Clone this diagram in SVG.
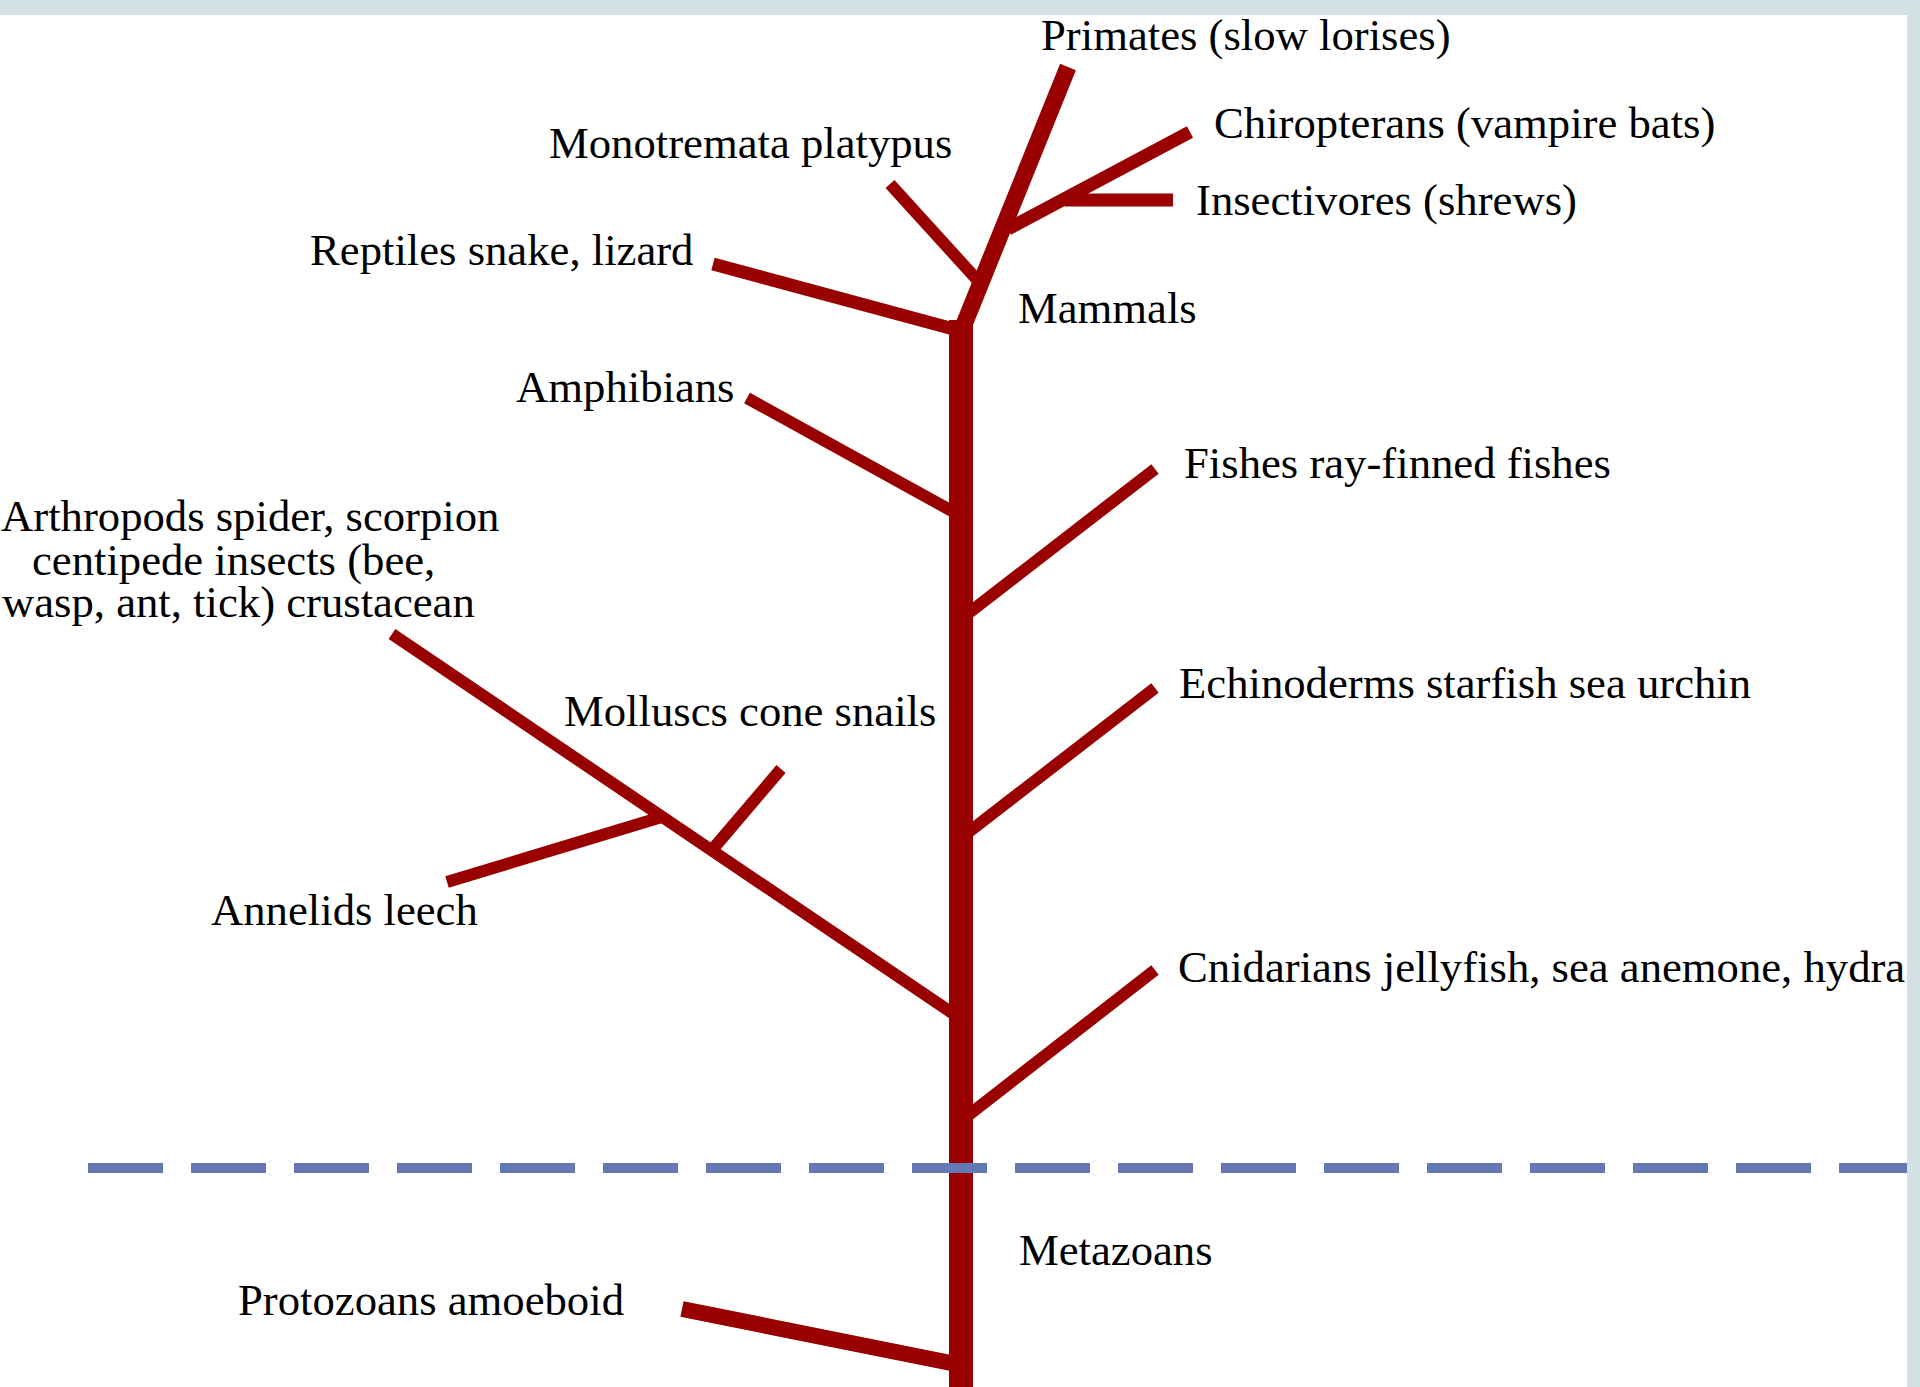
<svg xmlns="http://www.w3.org/2000/svg" width="1920" height="1387" viewBox="0 0 1920 1387">
<style>
.t{font-family:"Liberation Serif","Times New Roman",serif;font-size:44.7px;fill:#000}
.b{stroke:#990000;stroke-linecap:butt;fill:none}
</style>
<rect x="0" y="0" width="1920" height="1387" fill="#ffffff"/>
<rect x="0" y="0" width="1920" height="15" fill="#d3e1e4"/>
<rect x="1907" y="0" width="13" height="1387" fill="#d3e1e4"/>
<g id="connectors">
<line class="b" x1="961" y1="320" x2="961" y2="1387" stroke-width="24"/>
<line class="b" x1="961" y1="332" x2="1068" y2="67" stroke-width="17"/>
<line class="b" x1="1008" y1="229" x2="1190" y2="132" stroke-width="13"/>
<line class="b" x1="890" y1="184" x2="980" y2="283" stroke-width="12"/>
<line class="b" x1="1065" y1="200" x2="1173" y2="200" stroke-width="13"/>
<line class="b" x1="713" y1="264" x2="961" y2="331" stroke-width="13"/>
<line class="b" x1="747" y1="398" x2="961" y2="516" stroke-width="12"/>
<line class="b" x1="1155" y1="469" x2="961" y2="619" stroke-width="12"/>
<line class="b" x1="1155" y1="688" x2="961" y2="838" stroke-width="12"/>
<line class="b" x1="1155" y1="970" x2="961" y2="1121" stroke-width="12"/>
<line class="b" x1="392" y1="634" x2="961" y2="1019" stroke-width="12"/>
<line class="b" x1="447" y1="882" x2="665" y2="816" stroke-width="12"/>
<line class="b" x1="781" y1="769" x2="712" y2="850" stroke-width="12"/>
<line class="b" x1="682" y1="1309" x2="961" y2="1365" stroke-width="16"/>
<line x1="88" y1="1168" x2="1907" y2="1168" stroke="#6677b5" stroke-width="10" stroke-dasharray="75 28"/>
</g>
<g id="primates"><text class="t" x="1041" y="50">Primates (slow lorises)</text></g>
<g id="chiropterans"><text class="t" x="1214" y="138">Chiropterans (vampire bats)</text></g>
<g id="insectivores"><text class="t" x="1196" y="215">Insectivores (shrews)</text></g>
<g id="monotremata"><text class="t" x="549" y="158">Monotremata platypus</text></g>
<g id="reptiles"><text class="t" x="310" y="265">Reptiles snake, lizard</text></g>
<g id="mammals"><text class="t" x="1018" y="323">Mammals</text></g>
<g id="amphibians"><text class="t" x="516" y="402">Amphibians</text></g>
<g id="fishes"><text class="t" x="1184" y="478">Fishes ray-finned fishes</text></g>
<g id="arthropods">
<text class="t" x="1" y="531">Arthropods spider, scorpion</text>
<text class="t" x="32" y="575">centipede insects (bee,</text>
<text class="t" x="2" y="617">wasp, ant, tick) crustacean</text>
</g>
<g id="molluscs"><text class="t" x="564" y="726">Molluscs cone snails</text></g>
<g id="echinoderms"><text class="t" x="1179" y="698">Echinoderms starfish sea urchin</text></g>
<g id="annelids"><text class="t" x="211" y="925">Annelids leech</text></g>
<g id="cnidarians"><text class="t" x="1178" y="982">Cnidarians jellyfish, sea anemone, hydra</text></g>
<g id="metazoans"><text class="t" x="1019" y="1265">Metazoans</text></g>
<g id="protozoans"><text class="t" x="238" y="1315">Protozoans amoeboid</text></g>
</svg>
